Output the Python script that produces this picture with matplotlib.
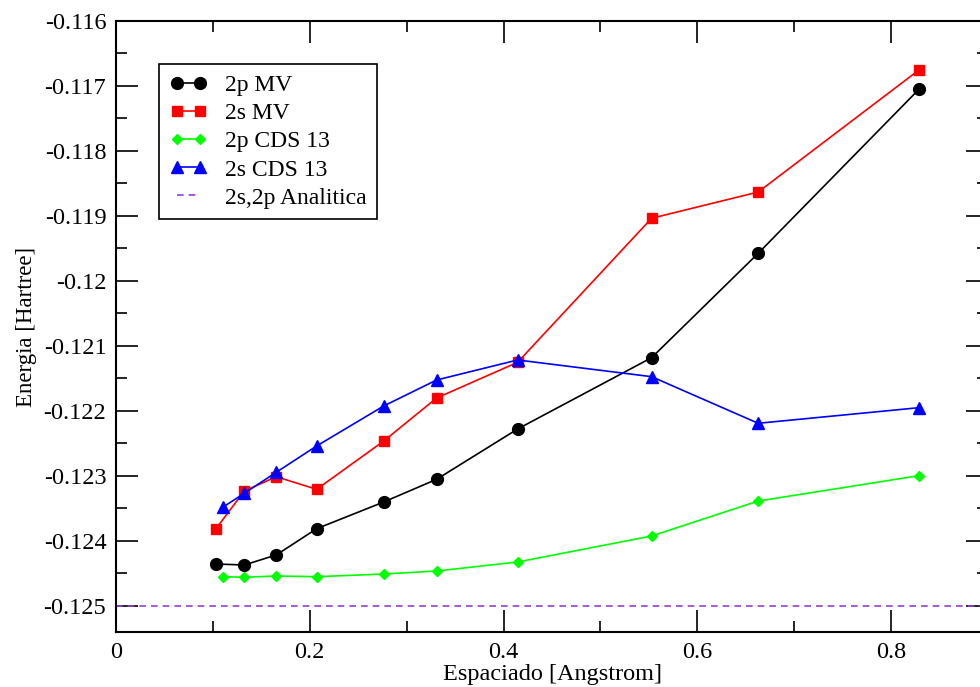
import numpy as np
import matplotlib
matplotlib.use('Agg')
from matplotlib import pyplot as plt
from matplotlib.ticker import MultipleLocator, FuncFormatter

# datos
x_mv = [0.1032, 0.1324, 0.1654, 0.2071, 0.2763, 0.3309, 0.4145, 0.5528, 0.6628, 0.8287]
x_cds = [0.1101, 0.1324, 0.1654, 0.2071, 0.2763, 0.3309, 0.4145, 0.5528, 0.6628, 0.8287]

e_2p_mv = [-0.124354, -0.124369, -0.124215, -0.123811, -0.123400, -0.123051,
           -0.122277, -0.121180, -0.119574, -0.117051]
e_2s_mv = [-0.123811, -0.123231, -0.123011, -0.123205, -0.122462, -0.121800,
           -0.121251, -0.119035, -0.118631, -0.116754]
e_2p_cds = [-0.124549, -0.124558, -0.124538, -0.124549, -0.124508, -0.124462,
            -0.124323, -0.123923, -0.123385, -0.122995]
e_2s_cds = [-0.123482, -0.123266, -0.122943, -0.122538, -0.121923, -0.121523,
            -0.121215, -0.121472, -0.122189, -0.121949]
e_analitica = -0.125

plt.rcParams['font.family'] = ['Liberation Serif', 'DejaVu Serif']

fig = plt.figure(figsize=(9.8, 6.87), dpi=100)
ax = fig.add_axes([116/980, 55/687, 872/980, 611/687])

ax.plot(x_mv, e_2p_mv, color='black', lw=1.2, marker='o', ms=8.5, label='2p MV')
ax.plot(x_mv, e_2s_mv, color='red', lw=1.2, marker='s', ms=6.5, label='2s MV')
ax.plot(x_cds, e_2p_cds, color='#00ff00', lw=1.2, marker='D', ms=5.5, label='2p CDS 13')
ax.plot(x_cds, e_2s_cds, color='blue', lw=1.2, marker='^', ms=8.5, label='2s CDS 13')
ax.axhline(e_analitica, color='#9440d3', lw=1.2, ls=(0, (4, 3)), label='2s,2p Analitica')

ax.set_xlim(0, 0.9)
ax.set_ylim(-0.1254, -0.116)

ax.xaxis.set_major_locator(MultipleLocator(0.2))
ax.xaxis.set_minor_locator(MultipleLocator(0.1))
ax.yaxis.set_major_locator(MultipleLocator(0.001))
ax.yaxis.set_minor_locator(MultipleLocator(0.0005))
ax.xaxis.set_major_formatter(FuncFormatter(lambda v, p: '%g' % round(v, 6)))
ax.yaxis.set_major_formatter(FuncFormatter(lambda v, p: '%g' % round(v, 6)))

ax.tick_params(which='both', direction='in', top=True, right=True, labelsize=17.5, width=1.2)
ax.tick_params(which='major', length=16, pad=7)
ax.tick_params(which='minor', length=8)
for s in ax.spines.values():
    s.set_linewidth(1.5)

ax.set_xlabel('Espaciado [Angstrom]', fontsize=17.5, labelpad=1)
ax.set_ylabel('Energia [Hartree]', fontsize=16.5, labelpad=5)

leg = ax.legend(loc='upper left', bbox_to_anchor=(0.0493, 0.9296), borderaxespad=0,
                fontsize=17, numpoints=2, handlelength=1.6, handletextpad=0.75,
                labelspacing=0.28, borderpad=0.45, fancybox=False, framealpha=1,
                edgecolor='black')
leg.get_frame().set_linewidth(1.2)

fig.savefig('out.png', dpi=100)
